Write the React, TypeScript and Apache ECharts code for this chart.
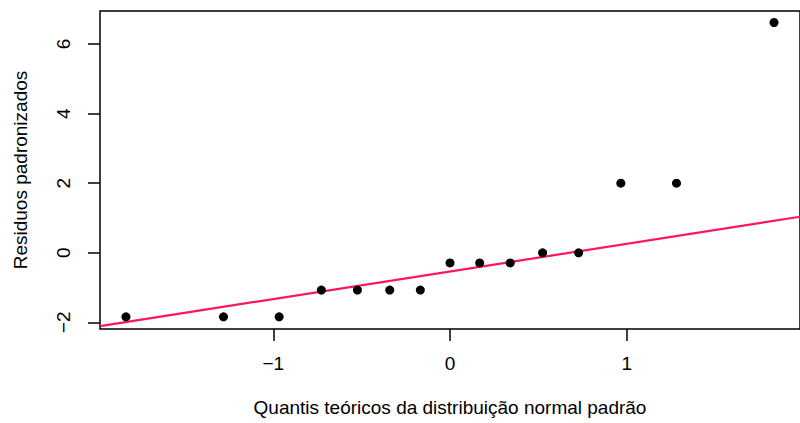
import React, { useEffect, useRef } from "react";
import * as echarts from "echarts";

const theoreticalQuantiles = [-1.834, -1.282, -0.967, -0.728, -0.524, -0.341, -0.168, 0, 0.168, 0.341, 0.524, 0.728, 0.967, 1.282, 1.834];
const standardizedResiduals = [-1.84, -1.84, -1.84, -1.07, -1.07, -1.07, -1.07, -0.29, -0.29, -0.29, 0.0, 0.0, 2.0, 2.0, 6.62];
const xTicks = [-1, 0, 1];
const yTicks = [-2, 0, 2, 4, 6];
const xLabel = "Quantis teóricos da distribuição normal padrão";
const yLabel = "Residuos padronizados";

function quantile7(sorted: number[], p: number) {
  const h = (sorted.length - 1) * p;
  const lo = Math.floor(h);
  const hi = Math.ceil(h);
  return sorted[lo] + (h - lo) * (sorted[hi] - sorted[lo]);
}

export default function App() {
  const ref = useRef<HTMLDivElement>(null);
  useEffect(() => {
    if (!ref.current) return;
    const chart = echarts.init(ref.current, null, { renderer: "svg" });
    const sorted = [...standardizedResiduals].sort((a, b) => a - b);
    const q1 = quantile7(sorted, 0.25);
    const q3 = quantile7(sorted, 0.75);
    const z = 0.6744897501960817;
    const slope = (q3 - q1) / (2 * z);
    const intercept = q1 + slope * z;
    const lineX = [-1.981, 1.981];
    const font = "'Liberation Sans', Arial, Helvetica, sans-serif";
    chart.setOption({
      animation: false,
      backgroundColor: "#ffffff",
      grid: {
        left: 100,
        top: 11,
        width: 703,
        height: 318,
        show: true,
        borderColor: "#000",
        borderWidth: 1.5,
        backgroundColor: "transparent",
      },
      xAxis: {
        type: "value",
        min: -1.981,
        max: 1.981,
        name: xLabel,
        nameLocation: "middle",
        nameGap: 69,
        nameTextStyle: { fontSize: 19, color: "#000", fontFamily: font },
        axisLine: { show: false, onZero: false },
        splitLine: { show: false },
        axisTick: { show: true, length: 12, lineStyle: { color: "#000", width: 1.5 }, customValues: xTicks },
        axisLabel: {
          fontSize: 19,
          color: "#000",
          fontFamily: font,
          margin: 25,
          customValues: xTicks,
          formatter: (v: number) => String(v).replace("-", "\u2212"),
        },
      },
      yAxis: {
        type: "value",
        min: -2.19,
        max: 6.95,
        name: yLabel,
        nameLocation: "middle",
        nameGap: 70,
        nameRotate: 90,
        nameTextStyle: { fontSize: 19, color: "#000", fontFamily: font },
        axisLine: { show: false, onZero: false },
        splitLine: { show: false },
        axisTick: { show: true, length: 12, lineStyle: { color: "#000", width: 1.5 }, customValues: yTicks },
        axisLabel: {
          fontSize: 19,
          color: "#000",
          fontFamily: font,
          rotate: 90,
          margin: 27,
          customValues: yTicks,
          formatter: (v: number) => String(v).replace("-", "\u2212"),
        },
      },
      series: [
        {
          type: "line",
          data: lineX.map((x) => [x, intercept + slope * x]),
          symbol: "none",
          lineStyle: { color: "#FF1466", width: 2.2 },
          z: 2,
        },
        {
          type: "scatter",
          data: theoreticalQuantiles.map((x, i) => [x, standardizedResiduals[i]]),
          symbol: "circle",
          symbolSize: 9,
          itemStyle: { color: "#000", opacity: 1 },
          z: 3,
        },
      ],
    });
    return () => chart.dispose();
  }, []);
  return <div ref={ref} style={{ width: 800, height: 423, position: "absolute", left: 0, top: 0 }} />;
}
